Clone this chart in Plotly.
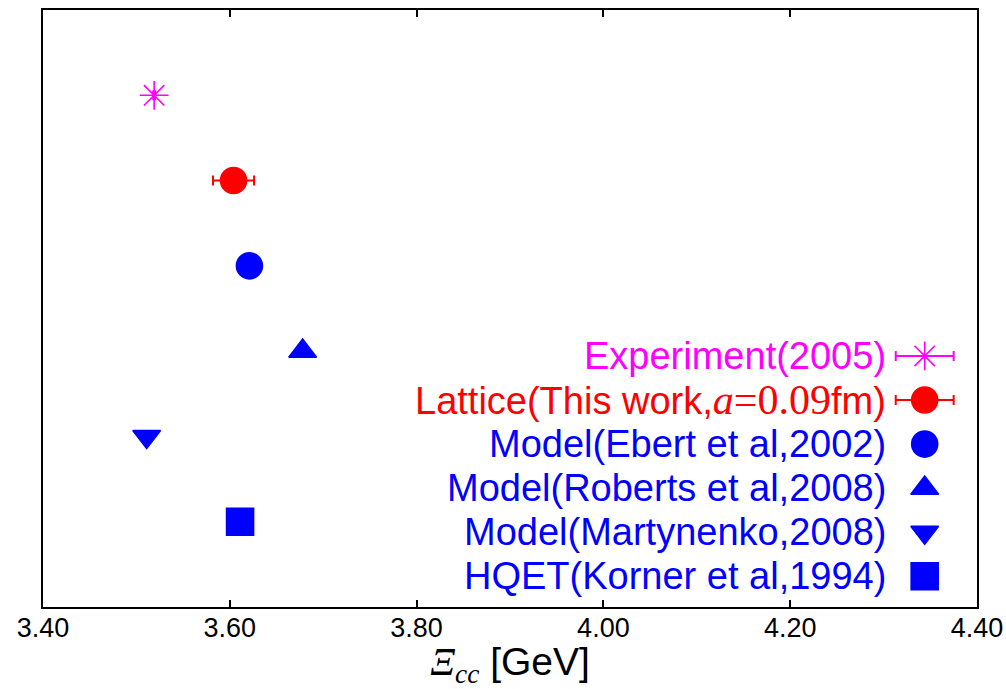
import plotly.graph_objects as go

# Xi_cc mass: experiment, lattice and model predictions (GeV)
labels = [
    "Experiment(2005)",
    "Lattice(This work,<span style='font-family:Liberation Serif;font-size:42px'><i>a</i>=0.09</span>fm)",
    "Model(Ebert et al,2002)",
    "Model(Roberts et al,2008)",
    "Model(Martynenko,2008)",
    "HQET(Korner et al,1994)",
]
masses = [3.519, 3.604, 3.621, 3.678, 3.511, 3.611]
errors = [0.001, 0.022, 0.0, 0.0, 0.0, 0.0]
rows = [6, 5, 4, 3, 2, 1]
colors = ["#FF00FF", "#FF0000", "#0000FF", "#0000FF", "#0000FF", "#0000FF"]
symbols = ["asterisk-open", "circle", "circle", "triangle-up", "triangle-down", "square"]
sizes = [24, 26, 26, 24, 24, 27]
has_err = [True, True, False, False, False, False]
tick_vals = [3.4, 3.6, 3.8, 4.0, 4.2, 4.4]
tick_text = ["3.40", "3.60", "3.80", "4.00", "4.20", "4.40"]

fig = go.Figure()

for i in range(len(labels)):
    err = dict(type="data", array=[errors[i]], color=colors[i], thickness=2, width=5,
               visible=has_err[i])
    fig.add_trace(go.Scatter(
        x=[masses[i]], y=[rows[i]], mode="markers",
        marker=dict(symbol=symbols[i], size=sizes[i], color=colors[i],
                    line=dict(color=colors[i], width=1.6)),
        error_x=err, showlegend=False, hoverinfo="x",
    ))

# hand-built legend: text on the left, marker sample on the right
leg_x = 0.944
leg_text_x = 0.9047
leg_top = 0.4205
leg_step = 0.0738
leg_half = 0.031
for i in range(len(labels)):
    ly = leg_top - i * leg_step
    fig.add_trace(go.Scatter(
        x=[leg_x], y=[ly], xaxis="x2", yaxis="y2", mode="markers",
        marker=dict(symbol=symbols[i], size=sizes[i], color=colors[i],
                    line=dict(color=colors[i], width=1.6)),
        error_x=dict(type="data", array=[leg_half], color=colors[i], thickness=2,
                     width=5, visible=has_err[i]),
        showlegend=False, hoverinfo="skip",
    ))
    fig.add_annotation(
        x=leg_text_x, y=ly, xref="x2", yref="y2", text=labels[i],
        showarrow=False, xanchor="right", yanchor="middle",
        font=dict(family="Liberation Sans, Arial", size=38, color=colors[i]),
    )

axis_font = dict(family="Liberation Sans Narrow, Arial Narrow, Liberation Sans", size=27, color="black")

fig.update_layout(
    width=1006, height=689,
    margin=dict(l=43, r=29, t=10, b=82),
    paper_bgcolor="white", plot_bgcolor="white",
    xaxis=dict(
        range=[3.4, 4.4], tickvals=tick_vals, ticktext=tick_text,
        ticks="inside", ticklen=7, tickwidth=2, tickcolor="black",
        showline=True, linewidth=2, linecolor="black", mirror="ticks",
        showgrid=False, zeroline=False, tickfont=axis_font,
        ticklabeloverflow="allow", automargin=False, ticklabelstandoff=-4,
        title=dict(
            text="<span style='font-family:Liberation Serif'><i>Ξ</i><sub><i>cc</i></sub></span> [GeV]",
            font=dict(family="Liberation Sans Narrow, Arial Narrow, Liberation Sans", size=39, color="black"),
            standoff=14,
        ),
    ),
    yaxis=dict(
        range=[0, 7], showticklabels=False, ticks="",
        showline=True, linewidth=2, linecolor="black", mirror=True,
        showgrid=False, zeroline=False, automargin=False,
    ),
    xaxis2=dict(range=[0, 1], overlaying="x", visible=False, fixedrange=True),
    yaxis2=dict(range=[0, 1], overlaying="y", visible=False, fixedrange=True),
)

fig.write_html("out.html")
